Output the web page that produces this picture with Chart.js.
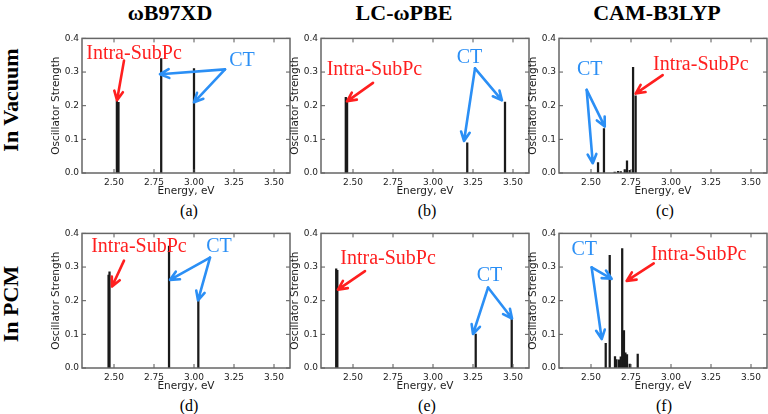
<!DOCTYPE html>
<html>
<head>
<meta charset="utf-8">
<script src="https://cdn.jsdelivr.net/npm/chart.js@4.4.0/dist/chart.umd.min.js"></script>
<style>
  body { margin: 0; width: 768px; height: 414px; overflow: hidden; background: #fff; position: relative; }
  canvas { position: absolute; }
  .t { position: absolute; white-space: nowrap; line-height: 1; transform: translate(-50%, -50%);
       font-family: 'Liberation Serif', serif; color: #000; }
  .b { font-weight: bold; font-size: 22px; }
  .r { transform: translate(-50%, -50%) rotate(-90deg); }
  .s { font-size: 16px; }
</style>
</head>
<body>
<div class="t b" style="left:170px;top:13px">ωB97XD</div>
<div class="t b" style="left:404px;top:13px">LC-ωPBE</div>
<div class="t b" style="left:657px;top:13px">CAM-B3LYP</div>
<div class="t b r" style="left:11px;top:100px">In Vacuum</div>
<div class="t b r" style="left:11px;top:304px">In PCM</div>
<div class="t s" style="left:189px;top:211px">(a)</div>
<div class="t s" style="left:427px;top:211px">(b)</div>
<div class="t s" style="left:665px;top:211px">(c)</div>
<div class="t s" style="left:189px;top:406px">(d)</div>
<div class="t s" style="left:427px;top:406px">(e)</div>
<div class="t s" style="left:664px;top:406px">(f)</div>

<script>
var xTicks = [2.50, 2.75, 3.00, 3.25, 3.50];
var yTicks = [0.0, 0.1, 0.2, 0.3, 0.4];

// energies (eV) and oscillator strengths
var energyA = [2.518, 2.528, 2.795, 3.000];
var strengthA = [0.215, 0.210, 0.340, 0.310];

var energyB = [2.455, 2.463, 3.214, 3.450];
var strengthB = [0.225, 0.220, 0.090, 0.211];

var energyC = [2.544, 2.581, 2.648, 2.669, 2.686, 2.711, 2.725, 2.742, 2.763, 2.779];
var strengthC = [0.031, 0.132, 0.003, 0.005, 0.004, 0.010, 0.036, 0.008, 0.314, 0.229];

var energyD = [2.466, 2.472, 2.844, 3.027];
var strengthD = [0.276, 0.286, 0.362, 0.211];

var energyE = [2.395, 2.402, 3.267, 3.492];
var strengthE = [0.295, 0.290, 0.101, 0.150];

var energyF = [2.592, 2.617, 2.650, 2.659, 2.675, 2.686, 2.695, 2.706, 2.715, 2.725, 2.742, 2.792];
var strengthF = [0.073, 0.335, 0.034, 0.025, 0.024, 0.033, 0.355, 0.111, 0.045, 0.040, 0.012, 0.041];

var RED = '#ff1f1f', BLUE = '#2b8ff5';

var panels = [
  { left: 82, top: 34, e: energyA, f: strengthA,
    labels: [['Intra-SubPc', RED, 2.625, 0.354], ['CT', BLUE, 3.30, 0.334]],
    arrows: [[RED, 2.5625, 0.334, 2.519, 0.216],
             [BLUE, 3.194, 0.308, 2.7875, 0.2935], [BLUE, 3.194, 0.308, 3.0, 0.21]] },
  { left: 321, top: 34, e: energyB, f: strengthB,
    labels: [['Intra-SubPc', RED, 2.634, 0.308], ['CT', BLUE, 3.228, 0.343]],
    arrows: [[RED, 2.625, 0.268, 2.4625, 0.213],
             [BLUE, 3.2625, 0.311, 3.194, 0.095], [BLUE, 3.2625, 0.311, 3.431, 0.216]] },
  { left: 559, top: 34, e: energyC, f: strengthC,
    labels: [['CT', BLUE, 2.492, 0.308], ['Intra-SubPc', RED, 3.186, 0.322]],
    arrows: [[RED, 2.948, 0.291, 2.779, 0.236],
             [BLUE, 2.473, 0.247, 2.586, 0.138], [BLUE, 2.473, 0.247, 2.511, 0.029]] },
  { left: 82, top: 229, e: energyD, f: strengthD,
    labels: [['Intra-SubPc', RED, 2.656, 0.361], ['CT', BLUE, 3.156, 0.36]],
    arrows: [[RED, 2.5625, 0.319, 2.4875, 0.242],
             [BLUE, 3.1, 0.328, 2.85, 0.262], [BLUE, 3.1, 0.328, 3.025, 0.201]] },
  { left: 321, top: 229, e: energyE, f: strengthE,
    labels: [['Intra-SubPc', RED, 2.719, 0.324], ['CT', BLUE, 3.353, 0.275]],
    arrows: [[RED, 2.575, 0.288, 2.406, 0.233],
             [BLUE, 3.344, 0.239, 3.25, 0.101], [BLUE, 3.344, 0.239, 3.494, 0.147]] },
  { left: 559, top: 229, e: energyF, f: strengthF,
    labels: [['CT', BLUE, 2.4575, 0.35], ['Intra-SubPc', RED, 3.173, 0.338]],
    arrows: [[RED, 2.892, 0.311, 2.723, 0.259],
             [BLUE, 2.504, 0.299, 2.629, 0.265], [BLUE, 2.504, 0.299, 2.567, 0.086]] }
];

function drawArrow(ctx, x1, y1, x2, y2, color) {
  var ang = Math.atan2(y2 - y1, x2 - x1), h = 10, w = 0.45;
  ctx.strokeStyle = color;
  ctx.lineWidth = 2.6;
  ctx.lineCap = 'round';
  ctx.lineJoin = 'round';
  ctx.beginPath();
  ctx.moveTo(x1, y1);
  ctx.lineTo(x2, y2);
  ctx.moveTo(x2 - h * Math.cos(ang - w), y2 - h * Math.sin(ang - w));
  ctx.lineTo(x2, y2);
  ctx.lineTo(x2 - h * Math.cos(ang + w), y2 - h * Math.sin(ang + w));
  ctx.stroke();
}

var framePlugin = {
  id: 'frame',
  afterDatasetsDraw: function (chart, args, opts) {
    var ctx = chart.ctx, a = chart.chartArea, xs = chart.scales.x, ys = chart.scales.y;
    ctx.save();
    ctx.strokeStyle = '#555';
    ctx.lineWidth = 1;
    ctx.beginPath();
    xTicks.forEach(function (v) {
      var px = xs.getPixelForValue(v);
      ctx.moveTo(px, a.bottom); ctx.lineTo(px, a.bottom - 4);
      ctx.moveTo(px, a.top); ctx.lineTo(px, a.top + 4);
    });
    yTicks.forEach(function (v) {
      var py = ys.getPixelForValue(v);
      ctx.moveTo(a.left, py); ctx.lineTo(a.left + 4, py);
      ctx.moveTo(a.right, py); ctx.lineTo(a.right - 4, py);
    });
    ctx.stroke();
    ctx.lineWidth = 1.5;
    ctx.strokeStyle = '#666';
    ctx.strokeRect(a.left, a.top, a.right - a.left, a.bottom - a.top);

    opts.arrows.forEach(function (r) {
      drawArrow(ctx, xs.getPixelForValue(r[1]), ys.getPixelForValue(r[2]),
                xs.getPixelForValue(r[3]), ys.getPixelForValue(r[4]), r[0]);
    });
    ctx.font = '20px "Liberation Serif", serif';
    ctx.textAlign = 'center';
    ctx.textBaseline = 'middle';
    opts.labels.forEach(function (l) {
      ctx.fillStyle = l[1];
      ctx.fillText(l[0], xs.getPixelForValue(l[2]), ys.getPixelForValue(l[3]));
    });
    ctx.restore();
  }
};

Chart.defaults.font.family = '"DejaVu Sans", sans-serif';
Chart.defaults.color = '#222';

panels.forEach(function (p) {
  var cv = document.createElement('canvas');
  cv.width = 248;
  cv.height = 171;
  cv.style.left = (p.left - 36) + 'px';
  cv.style.top = (p.top - 4) + 'px';
  document.body.appendChild(cv);

  var pts = [];
  for (var i in p.e) {
    pts.push({ x: p.e[i], y: p.f[i] });
  }

  new Chart(cv, {
    type: 'bar',
    data: {
      datasets: [{
        data: pts,
        backgroundColor: '#1a1a1a',
        borderWidth: 0,
        barThickness: 1.6
      }]
    },
    options: {
      responsive: false,
      animation: false,
      layout: { padding: { top: 4, right: 4, left: 0, bottom: 0 } },
      plugins: {
        legend: { display: false },
        tooltip: { enabled: false },
        frame: { labels: p.labels, arrows: p.arrows }
      },
      scales: {
        x: {
          type: 'linear', min: 2.3, max: 3.6, offset: false,
          grid: { display: false, drawTicks: false },
          border: { display: false },
          afterBuildTicks: function (s) { s.ticks = xTicks.map(function (v) { return { value: v }; }); },
          ticks: { padding: 4, font: { size: 9 }, maxRotation: 0, autoSkip: false,
                   callback: function (v) { return Number(v).toFixed(2); } },
          title: { display: true, text: 'Energy, eV', font: { size: 10.5 }, padding: { top: 0, bottom: 3 } },
          afterFit: function (s) { s.height = 28; }
        },
        y: {
          min: 0, max: 0.4,
          grid: { display: false, drawTicks: false },
          border: { display: false },
          afterBuildTicks: function (s) { s.ticks = yTicks.map(function (v) { return { value: v }; }); },
          ticks: { padding: 3, font: { size: 9 },
                   callback: function (v) { return Number(v).toFixed(1); } },
          title: { display: true, text: 'Oscillator Strength', font: { size: 10.5 }, padding: { top: 4, bottom: 0 } },
          afterFit: function (s) { s.width = 36; }
        }
      }
    },
    plugins: [framePlugin]
  });
});
</script>
</body>
</html>
